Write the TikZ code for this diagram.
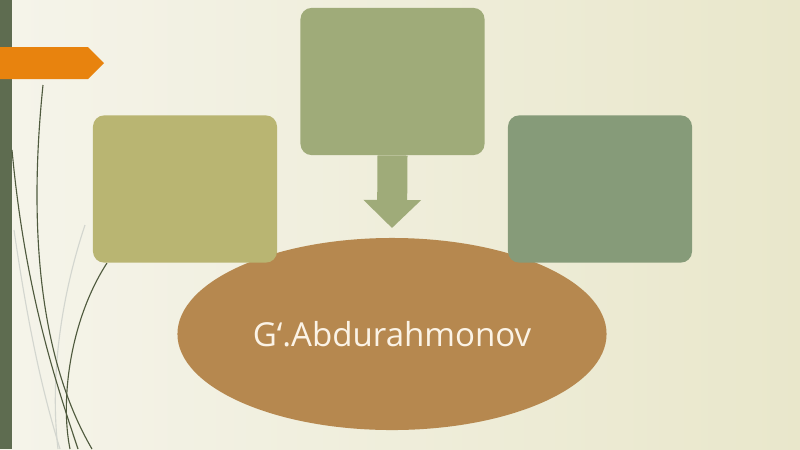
\documentclass[tikz,border=0pt]{standalone}
\usepackage{fontspec}
\setmainfont{Open Sans}
\usetikzlibrary{shapes.geometric,arrows.meta}
\definecolor{bgleft}{HTML}{F5F4EA}
\definecolor{bgright}{HTML}{E9E7CB}
\definecolor{barcol}{HTML}{5E6C50}
\definecolor{tabcol}{HTML}{E8830E}
\definecolor{boxa}{HTML}{B9B572}
\definecolor{boxb}{HTML}{9FAB79}
\definecolor{boxc}{HTML}{869B79}
\definecolor{ovalcol}{HTML}{B6884F}
\definecolor{namecol}{HTML}{FBF3E6}
\definecolor{stemcol}{HTML}{4F5A3E}
\tikzset{
  box/.style={rounded corners=0.28cm, minimum width=4.6cm, minimum height=3.68cm, inner sep=0pt},
  stem/.style={stemcol, line width=0.8pt},
  faint/.style={stemcol!25, line width=0.8pt}
}

\begin{document}
\begin{tikzpicture}[x=0.025cm,y=-0.025cm]
\useasboundingbox (0,0) rectangle (800,449);
\shade[left color=bgleft, right color=bgright] (0,0) rectangle (800,449);
\fill[barcol] (0,0) rectangle (12,449);
\fill[tabcol] (0,47) -- (88,47) -- (104,63) -- (88,79) -- (0,79) -- cycle;

\draw[faint] (14,230) .. controls (30,340) and (45,400) .. (60,449);
\draw[faint] (85,225) .. controls (60,300) and (50,380) .. (58,449);
\draw[stem] (43,85) .. controls (28,230) and (40,360) .. (92,449);
\draw[stem] (12,150) .. controls (25,290) and (55,380) .. (78,449);
\draw[stem] (107,263) .. controls (70,320) and (60,400) .. (70,449);

\node[ellipse, fill=ovalcol, minimum width=10.725cm, minimum height=4.8cm, inner sep=0pt,
      text=namecol, font=\fontsize{23.5}{28}\selectfont] (name) at (392,334) {G‘.Abdurahmonov};

\node[box, fill=boxa] (lbox) at (185,189) {};
\node[box, fill=boxb] (mbox) at (392.5,81.5) {};
\node[box, fill=boxc] (rbox) at (600,189) {};

\coordinate (tip) at (392,228);
\draw[boxb, line width=0.75cm, -{Triangle[width=1.4cm,length=0.7cm]}] (mbox.south) -- (tip);
\end{tikzpicture}
\end{document}
